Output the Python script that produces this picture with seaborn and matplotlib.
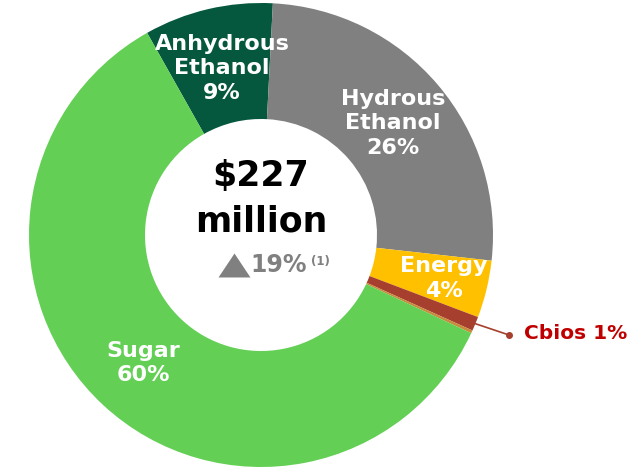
import numpy as np
import matplotlib
matplotlib.use("Agg")
import matplotlib.pyplot as plt
import seaborn as sns

# Revenue breakdown by product (share of net revenue, %)
segments = ["Anhydrous\nEthanol", "Hydrous\nEthanol", "Energy", "Cbios", "Other", "Sugar"]
shares = [9, 26, 4, 1, 0.2, 60]
share_labels = ["9%", "26%", "4%", "1%", "", "60%"]
colors = ["#05583D", "#808080", "#FFC000", "#A63F2D", "#C88B3A", "#63CF55"]

total_text = "$227"
total_unit = "million"
growth_text = "19%"
growth_note = "(1)"

sns.set_theme(style="white")
plt.rcParams["font.family"] = ["DejaVu Sans"]

fig = plt.figure(figsize=(6.41, 4.68), dpi=100)
ax = fig.add_axes([29 / 641, 1 / 468, 464 / 641, 464 / 468])

palette = sns.color_palette(colors)
wedges, _ = ax.pie(
    shares,
    colors=palette,
    startangle=119.4,
    counterclock=False,
    radius=1.0,
    wedgeprops=dict(width=0.5, linewidth=0),
)
ax.set_xlim(-1, 1)
ax.set_ylim(-1, 1)
ax.set_aspect("equal")
ax.axis("off")

# Segment labels inside the ring
label_pos = {
    "Anhydrous\nEthanol": (-0.168, 0.718),
    "Hydrous\nEthanol": (0.569, 0.481),
    "Energy": (0.789, -0.188),
    "Sugar": (-0.509, -0.552),
}
for name, pct in zip(segments, share_labels):
    if name in label_pos:
        x, y = label_pos[name]
        ax.text(x, y, f"{name}\n{pct}", ha="center", va="center", color="white",
                fontsize=16, fontweight="bold", linespacing=1.28)

# Cbios callout outside the ring
w = wedges[segments.index("Cbios")]
mid = np.deg2rad((w.theta1 + w.theta2) / 2)
start = (np.cos(mid) * 0.99, np.sin(mid) * 0.99)
dot = (1.069, -0.431)
ax.plot([start[0], dot[0]], [start[1], dot[1]], color="#A63F2D", lw=1.2, clip_on=False)
ax.plot(*dot, "o", color="#A63F2D", ms=4, clip_on=False)
ax.text(1.135, dot[1] + 0.006, f"Cbios {share_labels[segments.index('Cbios')]}",
        ha="left", va="center", color="#C00000", fontsize=14.5, fontweight="bold",
        clip_on=False)

# Center total and year-over-year growth
ax.text(0, 0.254, total_text, ha="center", va="center", color="black",
        fontsize=25, fontweight="bold")
ax.text(0, 0.060, total_unit, ha="center", va="center", color="black",
        fontsize=25, fontweight="bold")
up_arrow = [(-1, -0.75), (1, -0.75), (0, 0.75), (-1, -0.75)]
ax.plot(-0.116, -0.131, marker=up_arrow, ms=23, color="#808080", mec="none")
ax.text(-0.045, -0.129, growth_text, ha="left", va="center", color="#808080",
        fontsize=17, fontweight="bold")
ax.text(0.215, -0.115, growth_note, ha="left", va="center", color="#808080",
        fontsize=8.5, fontweight="bold")

fig.savefig("out.png", dpi=100, facecolor="white")
